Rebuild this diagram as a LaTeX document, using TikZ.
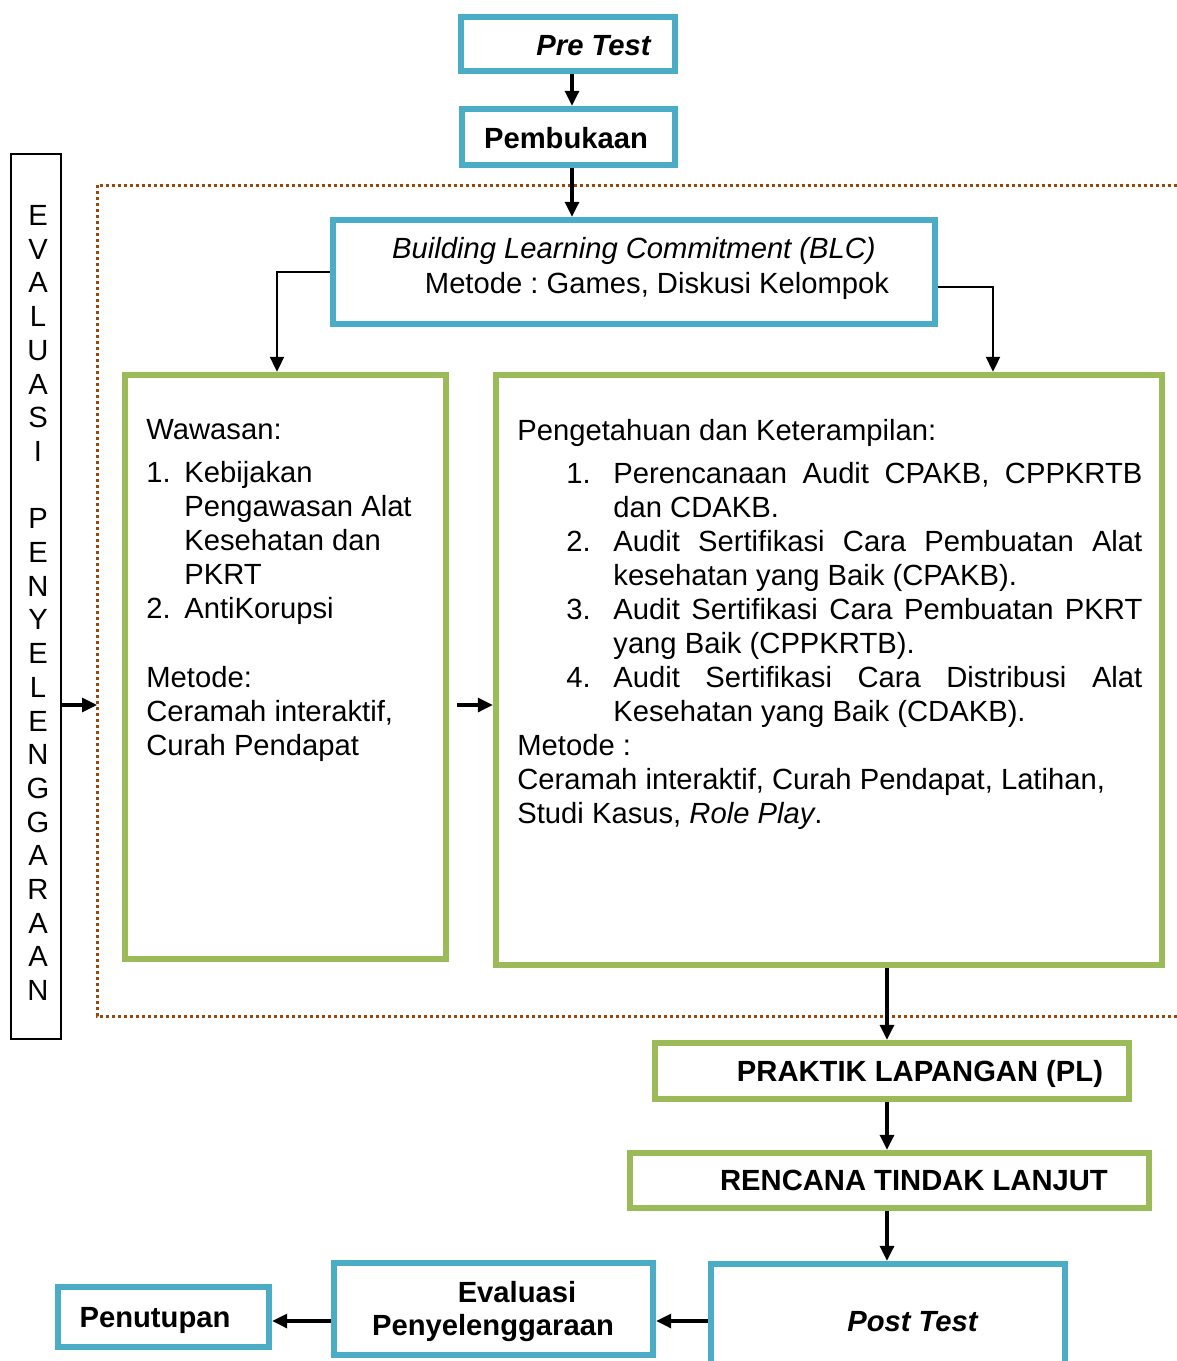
\documentclass[tikz,border=0pt]{standalone}
\usepackage{fontspec}
\setmainfont{Liberation Sans}
\frenchspacing
\usetikzlibrary{arrows.meta, positioning, calc}
\definecolor{tealblue}{HTML}{4BACC6}
\definecolor{leafgreen}{HTML}{9BBB59}
\definecolor{rustbrown}{HTML}{984807}
\tikzset{
x=0.5pt, y=-0.5pt, % one unit is one pixel of the layout
>={Triangle[length=7.5pt,width=7pt]}, % filled arrow heads
every node/.style={font=\fontsize{14.6pt}{17pt}\selectfont, inner sep=0pt}, % Arial-like text
tealbox/.style={draw=tealblue, line width=3.2pt}, % opening and closing steps
greenbox/.style={draw=leafgreen, line width=3.2pt}, % core sessions
flow/.style={->, line width=1.6pt}, % main arrows
thin flow/.style={->, line width=1pt}, % arrows out of BLC
}
\begin{document}
\begin{tikzpicture}
\useasboundingbox (0,0) rectangle (1177,1361);
% dotted frame round the core sessions
\draw[rustbrown, line width=1.5pt, dash pattern=on 1.5pt off 1.5pt] (1177,185) -- (97,185) -- (97,1016) -- (1177,1016);
\coordinate (dotleft) at (97,705);
\coordinate (topspine) at (572,0);
\coordinate (spine) at (887,0);
\coordinate (row) at (0,1321);

% boxes
\node[tealbox, minimum width=107pt, minimum height=27pt] (pretest) at (568,44) {};
\node[tealbox, minimum width=106.5pt, minimum height=28pt] (pembukaan) at (568.5,137) {};
\node[tealbox, minimum width=301pt, minimum height=52pt] (blc) at (634,272) {};
\node[greenbox, minimum width=160.5pt, minimum height=292pt] (waw) at (285.5,667) {};
\node[greenbox, minimum width=333pt, minimum height=295pt] (pk) at (829,670) {};
\node[greenbox, minimum width=237pt, minimum height=28pt] (pl) at (892,1071) {};
\node[greenbox, minimum width=259.5pt, minimum height=27.5pt] (rtl) at (889.5,1180.5) {};
\node[tealbox, minimum width=177pt, minimum height=51pt] (posttest) at (888,1315) {};
\node[tealbox, minimum width=159.5pt, minimum height=46pt] (evalp) at (493.5,1309) {};
\node[tealbox, minimum width=105.5pt, minimum height=30pt] (penutupan) at (163.5,1317) {};
\node[draw, line width=1.3pt, minimum width=25pt, minimum height=442.5pt] (evalbar) at (36,596.5) {};

% texts
\node[anchor=base] (pretesttxt) at (594,55.5) {\textbf{\textit{Pre Test}}};
\node[anchor=base] (pembtxt) at (566,148) {\textbf{Pembukaan}};
\node[anchor=base] (blcone) at (634,258.5) {\textit{Building Learning Commitment (BLC)}};
\node[anchor=base] (blctwo) at (657,293.5) {Metode : Games, Diskusi Kelompok};
\node[anchor=base] (pltxt) at (920,1081.5) {\textbf{PRAKTIK LAPANGAN (PL)}};
\node[anchor=base] (rtltxt) at (914,1190.5) {\textbf{RENCANA TINDAK LANJUT}};
\node[anchor=base] (posttxt) at (913,1331.5) {\textbf{\textit{Post Test}}};
\node[anchor=base] (evalpone) at (517,1302) {\textbf{Evaluasi}};
\node[anchor=base] (evalptwo) at (493,1335) {\textbf{Penyelenggaraan}};
\node[anchor=base] (penuttxt) at (155,1327) {\textbf{Penutupan}};
\foreach \ch [count=\i from 0] in {E,V,A,L,U,A,S,I}
  \node[anchor=base] (ev\i) at (38,{225.5+33.7*\i}) {\ch};
\foreach \ch [count=\i from 9] in {P,E,N,Y,E,L,E,N,G,G,A,R,A,A,N}
  \node[anchor=base] (ev\i) at (38,{225.5+33.7*\i}) {\ch};

\node[anchor=north west, align=left] (wawtxt) at (146,419) {Wawasan:\\[4.5pt]
\makebox[19pt][l]{1.}Kebijakan\\
\hspace*{19pt}Pengawasan Alat\\
\hspace*{19pt}Kesehatan dan\\
\hspace*{19pt}PKRT\\
\makebox[19pt][l]{2.}AntiKorupsi\\[17.5pt]
Metode:\\
Ceramah interaktif,\\
Curah Pendapat};

\node[anchor=north west, align=left] (pktxt) at (517,419) {Pengetahuan dan Keterampilan:\\[4.5pt]
\hspace*{24.5pt}\makebox[23.5pt][l]{1.}\makebox[264.5pt][s]{Perencanaan Audit CPAKB, CPPKRTB}\\
\hspace*{48pt}dan CDAKB.\\
\hspace*{24.5pt}\makebox[23.5pt][l]{2.}\makebox[264.5pt][s]{Audit Sertifikasi Cara Pembuatan Alat}\\
\hspace*{48pt}kesehatan yang Baik (CPAKB).\\
\hspace*{24.5pt}\makebox[23.5pt][l]{3.}\makebox[264.5pt][s]{Audit Sertifikasi Cara Pembuatan PKRT}\\
\hspace*{48pt}yang Baik (CPPKRTB).\\
\hspace*{24.5pt}\makebox[23.5pt][l]{4.}\makebox[264.5pt][s]{Audit Sertifikasi Cara Distribusi Alat}\\
\hspace*{48pt}Kesehatan yang Baik (CDAKB).\\
Metode :\\
Ceramah interaktif, Curah Pendapat, Latihan,\\
Studi Kasus, \textit{Role Play}.};

% arrows
\draw[flow] (pretest.south -| topspine) -- (pembukaan.north -| topspine);
\draw[flow] (pembukaan.south -| topspine) -- (blc.north -| topspine);
\draw[thin flow] (blc.west |- 0,272) -| (waw.north -| 277,0);
\draw[thin flow] (blc.east |- 0,287) -| (pk.north -| 993,0);
\draw[flow] (evalbar.east |- dotleft) -- (dotleft);
\draw[flow] ($(waw.east |- dotleft)+(8,0)$) -- (pk.west |- dotleft);
\draw[flow] (pk.south -| spine) -- (pl.north -| spine);
\draw[flow] (pl.south -| spine) -- (rtl.north -| spine);
\draw[flow] (rtl.south -| spine) -- (posttest.north -| spine);
\draw[flow] (posttest.west |- row) -- (evalp.east |- row);
\draw[flow] (evalp.west |- row) -- (penutupan.east |- row);
\end{tikzpicture}
\end{document}
